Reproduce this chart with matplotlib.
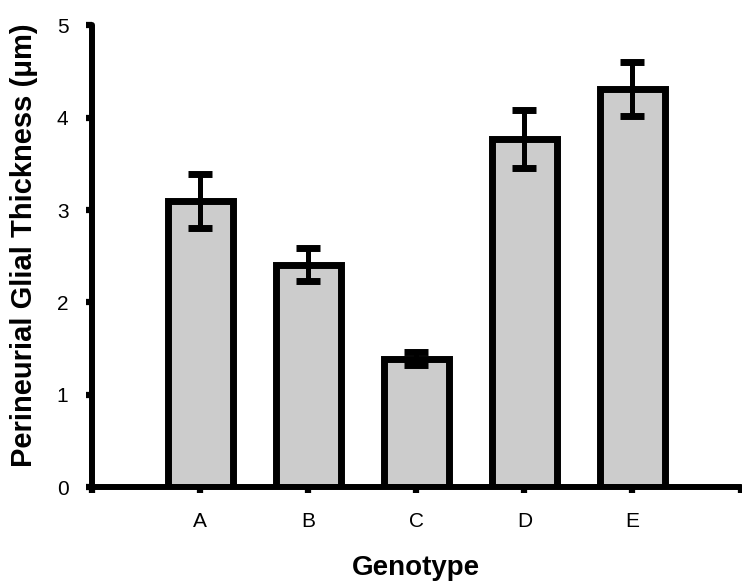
import numpy as np
import matplotlib.pyplot as plt

genotypes = ['A', 'B', 'C', 'D', 'E']
thickness = [3.10, 2.41, 1.39, 3.77, 4.31]
sem = [0.29, 0.18, 0.07, 0.31, 0.29]

plt.rcParams['font.family'] = ['Liberation Sans', 'DejaVu Sans']

fig = plt.figure(figsize=(7.42, 5.87), dpi=100)
ax = fig.add_axes([0.124, 0.170, 0.874, 0.787])

pos = np.arange(1, len(genotypes) + 1)
ax.bar(pos, thickness, width=0.6, color='#cccccc', edgecolor='black',
       linewidth=5, zorder=2)
eb = ax.errorbar(pos, thickness, yerr=sem, fmt='none', ecolor='black',
                 elinewidth=3.6, capsize=8.5, capthick=5, zorder=3)
for ln in eb[2]:
    ln.set_capstyle('round')

ax.set_xlim(0, 6)
ax.set_ylim(0, 5)
ax.set_xticks(range(0, 7))
ax.set_xticklabels([''] + genotypes + [''])
ax.set_yticks(range(0, 6))

for s in ['top', 'right']:
    ax.spines[s].set_visible(False)
for s in ['left', 'bottom']:
    ax.spines[s].set_linewidth(4.3)
    ax.spines[s].set_capstyle('round')

ax.tick_params(axis='both', direction='out', length=4, width=4.5, labelsize=15)
ax.tick_params(axis='x', pad=14)
ax.tick_params(axis='y', pad=13)
ax.set_xlabel('Genotype', fontsize=20, fontweight='bold', labelpad=17)
ax.set_ylabel('Perineurial Glial Thickness (μm)', fontsize=21,
              fontweight='bold')
ax.yaxis.set_label_coords(-0.083, 0.524)

fig.savefig('out.png', dpi=100)
